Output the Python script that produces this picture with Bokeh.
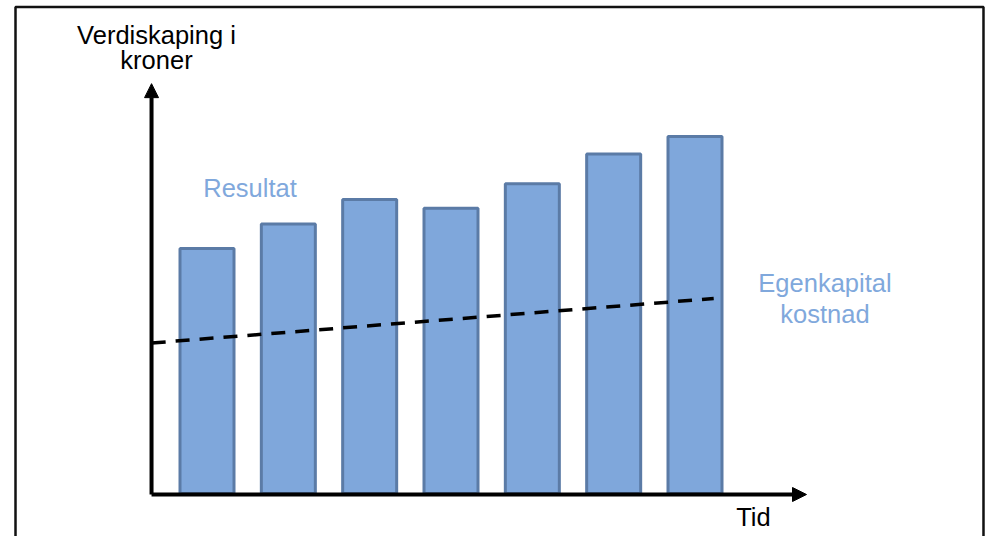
from bokeh.plotting import figure
from bokeh.models import Range1d, Arrow, NormalHead, Label, BoxAnnotation, ColumnDataSource
from bokeh.embed import file_html
from bokeh.resources import INLINE

# ---- data ----
periods = [0, 1, 2, 3, 4, 5, 6]
resultat = [70, 77, 84, 81.5, 88.5, 97, 102]
kost_x = [-0.68, 6.23]
kost_y = [43.0, 55.7]
y_label = ["Verdiskaping i", "kroner"]
x_label = "Tid"
res_label = "Resultat"
kost_label = ["Egenkapital", "kostnad"]

FONT = "Liberation Sans"
BAR_FILL = "#7FA7DB"
BAR_LINE = "#5B7BA6"
TEXT_BLUE = "#80A8DC"

W, H = 986, 536
p = figure(width=W, height=H, output_backend="svg", toolbar_location=None,
           x_range=Range1d(-2.539, 9.584), y_range=Range1d(-12.286, 140.857),
           min_border=0, min_border_left=0, min_border_right=0,
           min_border_top=0, min_border_bottom=0)
p.axis.visible = False
p.grid.visible = False
p.outline_line_color = None
p.background_fill_color = "white"
p.border_fill_color = "white"

src = ColumnDataSource(dict(x=periods, top=resultat))
p.vbar(x="x", top="top", bottom=0, width=0.664, source=src,
       fill_color=BAR_FILL, line_color=BAR_LINE, line_width=3)

p.line(kost_x, kost_y, line_color="black", line_width=3.5, line_dash="14 10")

# axes with arrow heads
ox, oy = -0.682, -0.286
p.add_layout(Arrow(x_start=ox, y_start=oy, x_end=ox, y_end=117.1,
                   line_color="black", line_width=4,
                   end=NormalHead(size=14, fill_color="black", line_color="black", line_width=1)))
p.add_layout(Arrow(x_start=ox, y_start=oy, x_end=7.371, y_end=oy,
                   line_color="black", line_width=4,
                   end=NormalHead(size=14, fill_color="black", line_color="black", line_width=1)))

# frame
p.add_layout(BoxAnnotation(left=-2.3545, right=9.547, top=139.0, bottom=-30,
                           fill_alpha=0, line_color="#111111", line_alpha=1.0, line_width=2.5))

DY = 2.3
def lab(txt, x, y, color):
    p.add_layout(Label(x=x, y=y + DY, text=txt, text_font=FONT, text_font_size="25.5px",
                       text_color=color, text_align="center", text_baseline="alphabetic"))

lab(y_label[0], -0.621, 128.57, "black")
lab(y_label[1], -0.621, 121.43, "black")
lab(res_label, 0.529, 84.86, TEXT_BLUE)
lab(kost_label[0], 7.598, 57.71, TEXT_BLUE)
lab(kost_label[1], 7.598, 48.86, TEXT_BLUE)
lab(x_label, 6.719, -9.14, "black")

open("out.html", "w").write(file_html(p, INLINE))
